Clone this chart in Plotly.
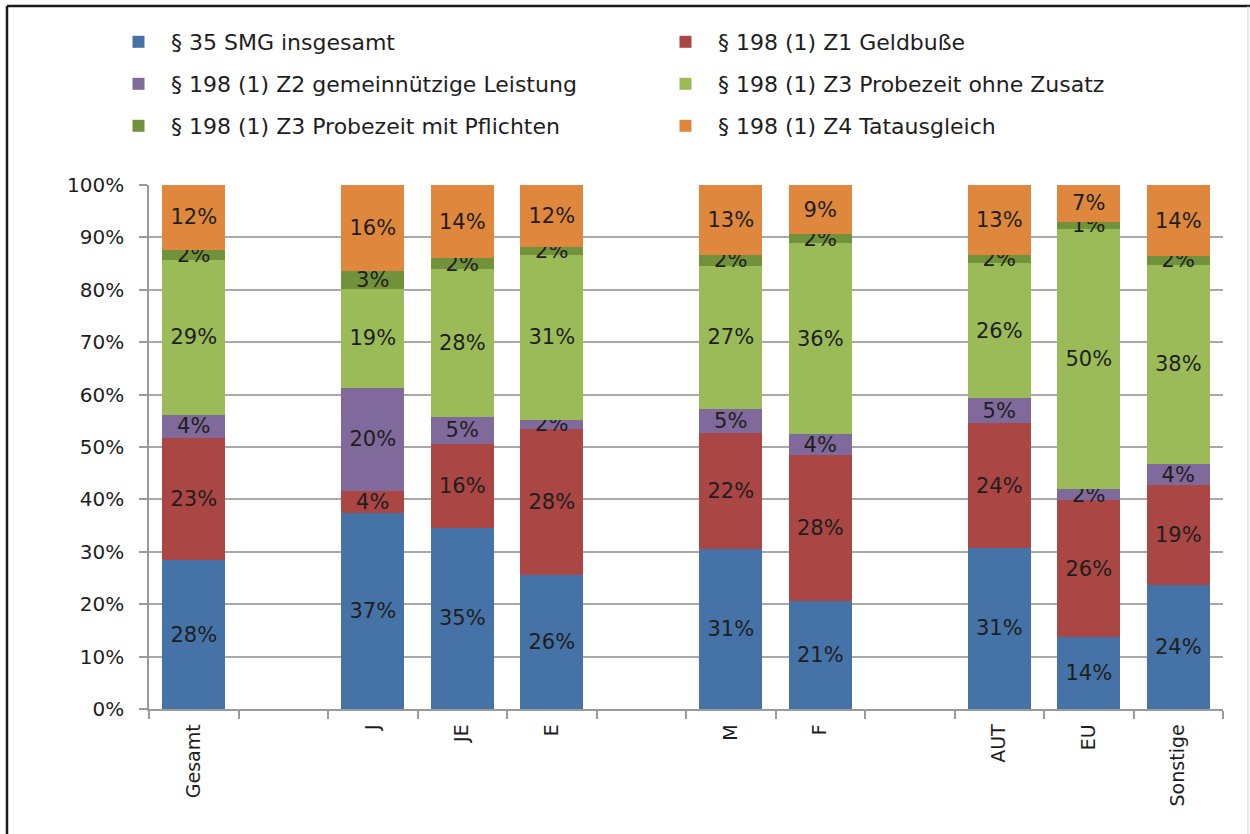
import plotly.graph_objects as go

categories = ["Gesamt", " ", "J", "JE", "E", "  ", "M", "F", "   ", "AUT", "EU", "Sonstige"]

series_names = [
    "§ 35 SMG insgesamt",
    "§ 198 (1) Z1 Geldbuße",
    "§ 198 (1) Z2 gemeinnützige Leistung",
    "§ 198 (1) Z3 Probezeit ohne Zusatz",
    "§ 198 (1) Z3 Probezeit mit Pflichten",
    "§ 198 (1) Z4 Tatausgleich",
]

smg35 =        [28.4, None, 37.4, 34.6, 25.6, None, 30.6, 20.7, None, 30.8, 13.8, 23.6]
geldbusse =    [23.4, None, 4.2, 16.0, 27.8, None, 22.0, 27.7, None, 23.7, 26.0, 19.2]
gemeinnuetzig = [4.4, None, 19.7, 5.2, 1.8, None, 4.6, 4.1, None, 4.8, 2.2, 3.9]
probe_ohne =   [29.4, None, 18.9, 28.2, 31.4, None, 27.4, 36.4, None, 25.8, 49.6, 38.1]
probe_mit =    [2.0, None, 3.4, 2.0, 1.6, None, 2.0, 1.7, None, 1.6, 1.4, 1.6]
tatausgleich = [12.4, None, 16.4, 14.0, 11.8, None, 13.4, 9.4, None, 13.3, 7.0, 13.6]

y_ticks = [0, 10, 20, 30, 40, 50, 60, 70, 80, 90, 100]
y_ticktext = ["0%", "10%", "20%", "30%", "40%", "50%", "60%", "70%", "80%", "90%", "100%"]

series_values = [smg35, geldbusse, gemeinnuetzig, probe_ohne, probe_mit, tatausgleich]
colors = ["#4572A7", "#AA4643", "#80699B", "#9BBB59", "#71913A", "#DF873C"]
legend_ids = ["legend", "legend", "legend2", "legend2", "legend3", "legend3"]

FONT = "DejaVu Sans"
TXT = "#1e1e1e"

W, H = 1250, 834
L, R, T, B = 149, 27, 185, 125
PW, PH = W - L - R, H - T - B


def px_x(p):
    return (p - L) / PW


def px_y(p):
    return (H - B - p) / PH


fig = go.Figure()
for name, vals, col, lg in zip(series_names, series_values, colors, legend_ids):
    fig.add_trace(go.Bar(
        x=categories, y=vals, name=name,
        marker=dict(color=col, line=dict(width=0)),
        texttemplate="%{y:.0f}%", textposition="inside",
        insidetextanchor="middle", textangle=0,
        textfont=dict(family=FONT, size=21, color=TXT),
        legend=lg, hoverinfo="skip",
    ))

legend_common = dict(
    orientation="h", xanchor="left", yanchor="middle",
    font=dict(family=FONT, size=22, color=TXT),
    entrywidth=477, entrywidthmode="pixels",
    bgcolor="rgba(0,0,0,0)", itemwidth=55, traceorder="normal",
)

fig.update_layout(
    width=W, height=H,
    margin=dict(l=L, r=R, t=T, b=B, autoexpand=False),
    paper_bgcolor="white", plot_bgcolor="white",
    barmode="stack", bargap=0.3,
    uniformtext=dict(minsize=21, mode="show"),
    legend=dict(x=px_x(106), y=px_y(42), **legend_common),
    legend2=dict(x=px_x(106), y=px_y(84), **legend_common),
    legend3=dict(x=px_x(106), y=px_y(126), **legend_common),
    xaxis=dict(
        type="category", categoryorder="array", categoryarray=categories,
        tickson="boundaries", ticks="outside", ticklen=8, tickwidth=1.5,
        tickcolor="#9a9a9a", showline=True, linecolor="#9a9a9a", linewidth=1.5,
        showgrid=False, tickangle=-90, ticklabelstandoff=6,
        tickfont=dict(family=FONT, size=19, color=TXT),
        range=[-0.5, len(categories) - 0.5], fixedrange=True,
    ),
    yaxis=dict(
        range=[0, 100], tickmode="array", tickvals=y_ticks, ticktext=y_ticktext,
        ticks="outside", ticklen=8, tickwidth=1.5, tickcolor="#9a9a9a",
        showline=True, linecolor="#9a9a9a", linewidth=1.5,
        showgrid=True, gridcolor="#a8a8a8", gridwidth=1.5,
        zeroline=False, ticklabelstandoff=11,
        tickfont=dict(family=FONT, size=20, color=TXT),
        fixedrange=True,
    ),
    showlegend=True,
)

# outer frame of the chart
fig.add_shape(type="line", xref="paper", yref="paper",
              x0=px_x(7), x1=px_x(1250), y0=px_y(6), y1=px_y(6),
              line=dict(color="#1a1a1a", width=2.5))
fig.add_shape(type="line", xref="paper", yref="paper",
              x0=px_x(7), x1=px_x(7), y0=px_y(6), y1=px_y(834),
              line=dict(color="#1a1a1a", width=2.5))
fig.add_shape(type="line", xref="paper", yref="paper",
              x0=px_x(1248), x1=px_x(1248), y0=px_y(6), y1=px_y(834),
              line=dict(color="#d0d0d0", width=1))

fig.write_html("out.html", config={"displayModeBar": False},
               post_script="document.body.style.margin='0px';")
